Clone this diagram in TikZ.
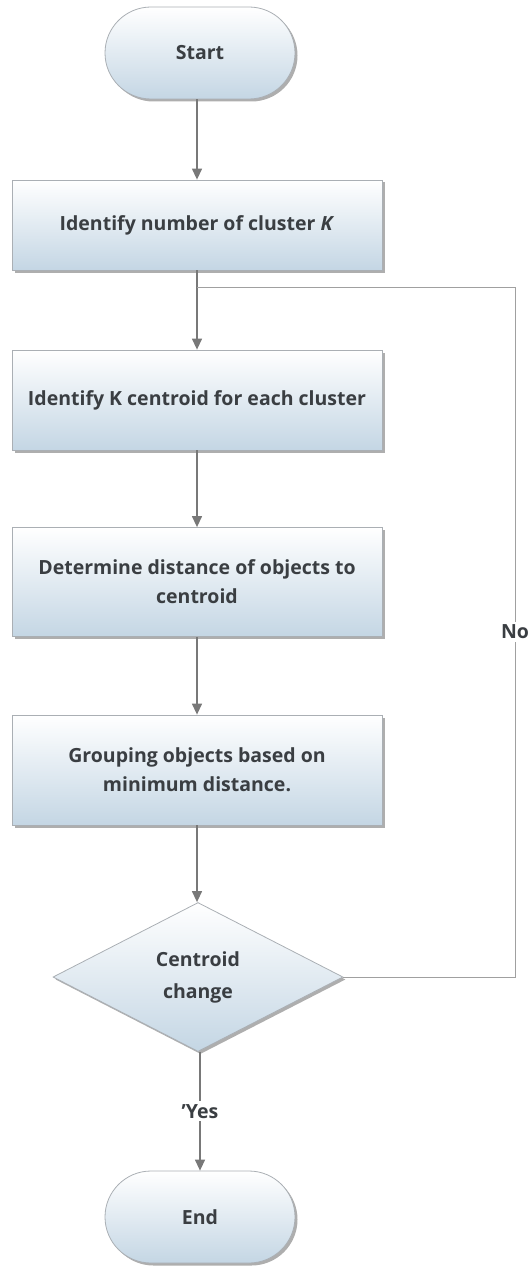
\documentclass[tikz,border=0pt]{standalone}
\usepackage{fontspec}
\setmainfont{Open Sans}
\usetikzlibrary{shapes.geometric,shapes.misc,shadows,arrows.meta}
\definecolor{txt}{RGB}{58,62,66}
\definecolor{bluebot}{RGB}{196,214,228}
\definecolor{edge}{RGB}{170,175,180}
\definecolor{linec}{RGB}{120,120,120}
\begin{document}
\begin{tikzpicture}[x=1pt,y=-1pt,
  base/.style={draw=edge, line width=0.8pt, top color=white, bottom color=bluebot,
    drop shadow={shadow xshift=2.5pt, shadow yshift=-2.5pt, opacity=0.45, fill=black!70},
    text=txt, font=\fontsize{19.5}{29}\selectfont\bfseries, align=center, inner sep=0pt},
  procbox/.style={base, rectangle, minimum width=370pt},
  term/.style={base, rounded rectangle, minimum width=190pt, minimum height=92pt},
  decis/.style={base, diamond, minimum width=290pt, minimum height=149pt, aspect=1.95,
    font=\fontsize{19.5}{32}\selectfont\bfseries},
  flow/.style={draw=linec, line width=1.3pt, -{Triangle[length=11pt,width=10pt]}},
  plain/.style={draw=linec!70, line width=1pt},
  lbl/.style={text=txt, font=\fontsize{19.5}{22}\selectfont\bfseries, fill=white, inner sep=3pt}
]
\useasboundingbox (0,0) rectangle (528,1268);
\node[term] (start) at (200,53) {Start};
\node[procbox, minimum height=90pt] (b1) at (197,225) {Identify number of cluster \textit{K}};
\node[procbox, minimum height=100pt] (b2) at (197,400) {Identify K centroid for each cluster};
\node[procbox, minimum height=109pt] (b3) at (197,582) {Determine distance of objects to\\centroid};
\node[procbox, minimum height=110pt] (b4) at (197,770) {Grouping objects based on\\minimum distance.};
\node[decis] (dec) at (198,977) {Centroid\\change};
\node[term] (end) at (200,1217) {End};
\coordinate (j) at (b1.south |- 0,287);
\coordinate (r1) at (515,287);
\coordinate (r2) at (515,977);
\draw[flow] (start.south -| b1.north) -- (b1.north);
\draw[flow] (b1.south) -- (b2.north);
\draw[flow] (b2.south) -- (b3.north);
\draw[flow] (b3.south) -- (b4.north);
\draw[flow] (b4.south) -- (dec.north -| b4.south);
\draw[plain] (dec.east) -- (r2) -- node[lbl, pos=0.5]{No} (r1) -- (j);
\draw[flow] (dec.south -| end.north) -- node[lbl, pos=0.5]{'Yes} (end.north);
\end{tikzpicture}
\end{document}
